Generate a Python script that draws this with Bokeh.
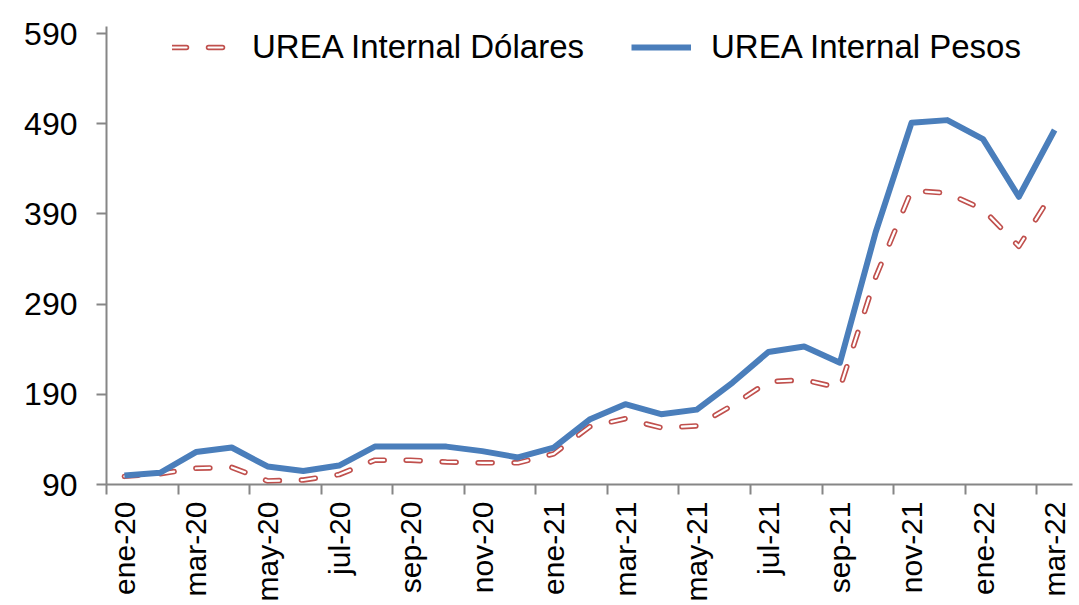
from math import pi
from bokeh.plotting import figure
from bokeh.models import Range1d, FixedTicker, Legend, LegendItem
from bokeh.embed import file_html
from bokeh.resources import INLINE

months = ["ene-20", "feb-20", "mar-20", "abr-20", "may-20", "jun-20", "jul-20",
          "ago-20", "sep-20", "oct-20", "nov-20", "dic-20", "ene-21", "feb-21",
          "mar-21", "abr-21", "may-21", "jun-21", "jul-21", "ago-21", "sep-21",
          "oct-21", "nov-21", "dic-21", "ene-22", "feb-22", "mar-22"]
pesos = [100, 103, 126, 131, 110, 105, 111, 132, 132, 132, 127, 120, 131, 162,
         179, 168, 173, 203, 237, 243, 225, 370, 491, 494, 473, 409, 483]
dolares = [99, 102, 108, 109, 94, 95, 101, 117, 117, 115, 114, 114, 124, 154,
           163, 153, 155, 178, 204, 206, 197, 320, 416, 413, 395, 354, 417]
y_ticks = [90, 190, 290, 390, 490, 590]

x = list(range(len(months)))
FONT = "Liberation Sans"
AXIS = "#868686"

p = figure(width=1073, height=604, output_backend="svg", toolbar_location=None,
           x_range=Range1d(-0.5, len(months) - 0.5), y_range=Range1d(90, 597.8),
           min_border_left=106, min_border_right=1, min_border_top=26,
           min_border_bottom=118)
p.outline_line_color = None
p.xgrid.visible = False
p.ygrid.visible = False

red = p.line(x, dolares, line_color="#C0504D", line_width=5.5, line_dash="14 22",
             line_cap="round", line_join="round")
white = p.line(x, dolares, line_color="white", line_width=2.2, line_dash="14 22",
               line_cap="round", line_join="round")
blue = p.line(x, pesos, line_color="#4A7EBB", line_width=6, line_join="round")

xa = p.xaxis[0]
even = [i for i in x if i % 2 == 0]
xa.ticker = FixedTicker(ticks=even, minor_ticks=[i - 0.5 for i in even])
xa.major_label_overrides = {i: months[i] for i in even}
xa.major_label_orientation = pi / 2
xa.major_tick_out = 0
xa.major_tick_in = 0
xa.minor_tick_out = 10
xa.minor_tick_in = 0
xa.minor_tick_line_color = AXIS
xa.minor_tick_line_width = 2
xa.axis_line_color = AXIS
xa.axis_line_width = 2
xa.major_label_text_font = FONT
xa.major_label_text_font_size = "30px"
xa.major_label_text_color = "black"
xa.major_label_standoff = 7

ya = p.yaxis[0]
ya.ticker = FixedTicker(ticks=y_ticks, minor_ticks=[])
ya.major_tick_out = 10
ya.major_tick_in = 0
ya.minor_tick_out = 0
ya.minor_tick_in = 0
ya.major_tick_line_color = AXIS
ya.major_tick_line_width = 2
ya.axis_line_color = AXIS
ya.axis_line_width = 2
ya.major_label_text_font = FONT
ya.major_label_text_font_size = "32px"
ya.major_label_text_color = "black"
ya.major_label_standoff = 19

legend = Legend(items=[LegendItem(label="UREA Internal Dólares", renderers=[red, white]),
                       LegendItem(label="UREA Internal Pesos", renderers=[blue])],
                orientation="horizontal", location=(66, 418), glyph_width=60,
                glyph_height=38, label_height=38, label_standoff=20, spacing=47,
                padding=0, margin=0, border_line_color=None, background_fill_alpha=0,
                label_text_font=FONT, label_text_font_size="33px",
                label_text_color="black")
p.add_layout(legend)

open("out.html", "w").write(file_html(p, INLINE))
